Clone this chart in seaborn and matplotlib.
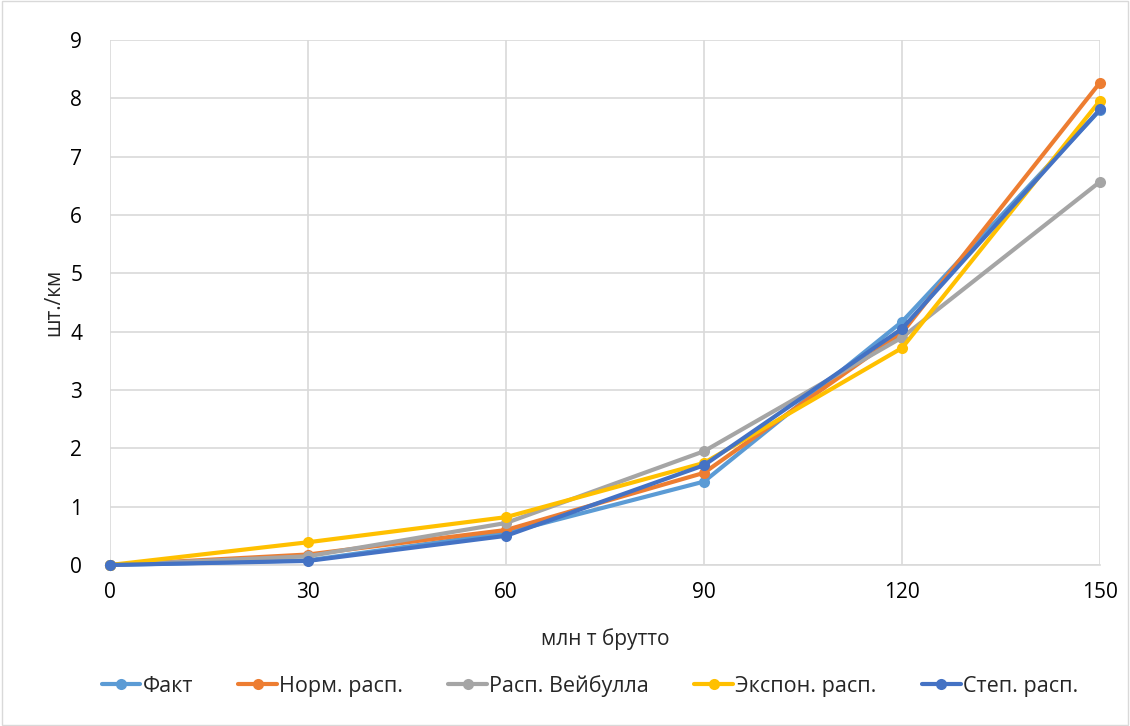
import matplotlib
matplotlib.use("Agg")
import matplotlib.pyplot as plt
import seaborn as sns
import pandas as pd

x_vals = [0, 30, 60, 90, 120, 150]
fact = [0.0, 0.08, 0.55, 1.43, 4.17, 7.80]
norm = [0.0, 0.18, 0.60, 1.58, 3.98, 8.27]
weibull = [0.0, 0.15, 0.72, 1.95, 3.90, 6.57]
expon = [0.0, 0.39, 0.82, 1.75, 3.72, 7.96]
power = [0.0, 0.07, 0.50, 1.71, 4.05, 7.81]

series_names = ["Факт", "Норм. расп.", "Расп. Вейбулла", "Экспон. расп.", "Степ. расп."]
series_values = [fact, norm, weibull, expon, power]
colors = ["#5B9BD5", "#ED7D31", "#A5A5A5", "#FFC000", "#4472C4"]

sns.set_theme(style="white")
plt.rcParams["font.family"] = ["Open Sans", "DejaVu Sans"]

fig = plt.figure(figsize=(11.3, 7.26), dpi=100)
ax = fig.add_axes([110 / 1130, 1 - 565 / 726, 990 / 1130, 525 / 726])

rows = []
for name, vals in zip(series_names, series_values):
    for xv, yv in zip(x_vals, vals):
        rows.append({"x": xv, "y": yv, "series": name})
df = pd.DataFrame(rows)

for name, col in zip(series_names, colors):
    sub = df[df["series"] == name]
    sns.lineplot(data=sub, x="x", y="y", ax=ax, color=col, linewidth=3.0,
                 marker="o", markersize=8, markeredgewidth=0, label=name,
                 clip_on=False, zorder=3)

fs = 15
ax.set_xlim(0, 150)
ax.set_ylim(0, 9)
ax.set_xticks(x_vals)
ax.set_yticks(range(0, 10))
ax.grid(True, color="#D9D9D9", linewidth=1.2)
ax.set_axisbelow(True)
for s in ["top", "right", "left"]:
    ax.spines[s].set_visible(False)
ax.spines["bottom"].set_color("#D9D9D9")
ax.spines["bottom"].set_linewidth(1.2)
ax.tick_params(axis="x", labelsize=fs, colors="#000000", length=0, pad=12)
ax.tick_params(axis="y", labelsize=fs, colors="#000000", length=0, pad=20)
ax.set_xlabel("млн т брутто", fontsize=fs, labelpad=18)
ax.set_ylabel("шт./км", fontsize=fs, labelpad=4)

handles, labels = ax.get_legend_handles_labels()
leg = fig.legend(handles, labels, loc="center", bbox_to_anchor=(0.522, 1 - 686 / 726),
                 ncol=5, frameon=False, fontsize=15.5, handlelength=1.8,
                 handletextpad=0.1, columnspacing=2.1)
ax.get_legend().remove()

fig.patches.append(plt.Rectangle((0.002, 0.002), 0.996, 0.996, transform=fig.transFigure,
                                 fill=False, edgecolor="#D9D9D9", linewidth=1))

fig.savefig("out.png", dpi=100, facecolor="white")
